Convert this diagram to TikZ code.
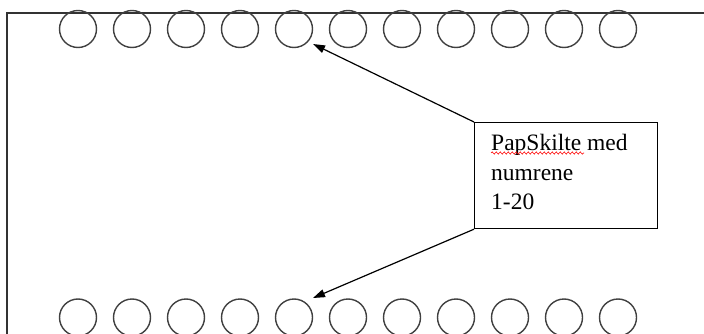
\documentclass[tikz,border=0pt]{standalone}
\usepackage{fontspec}
\setmainfont{Liberation Serif}
\usetikzlibrary{arrows.meta,decorations.pathmorphing}
\begin{document}
\begin{tikzpicture}[x=1pt,y=-1pt,
  sign/.style={circle,draw=black!75,line width=1.4pt,minimum size=37pt,inner sep=0pt},
  frameline/.style={draw=black!80,line width=1.8pt},
  callout/.style={draw=black,line width=1.2pt,minimum width=183pt,minimum height=106pt,inner sep=0pt},
  pointer/.style={draw=black,line width=1.2pt,-{Triangle[length=12pt,width=8pt]}}]
\useasboundingbox (0,0) rectangle (704,334);
\draw[frameline] (7,334) -- (7,13) -- (704,13);
\foreach \i in {0,...,10} {
  \node[sign] (t\i) at ({78+54*\i},29) {};
  \node[sign] (b\i) at ({78+54*\i},317.5) {};
}
\node[callout,anchor=north west] (box) at (474,122) {};
\node[anchor=north west,inner sep=0pt,align=left,font=\fontsize{23.5}{29.5}\selectfont] (txt) at (491,134) {PapSkilte med\\numrene\\1-20};
\draw[red,line width=0.6pt,decorate,decoration={snake,amplitude=1.1pt,segment length=4pt}] (491,153) -- (584,153);
\coordinate (tipT) at (313,44);
\coordinate (tipB) at (313,298);
\draw[pointer] (box.north west) -- (tipT);
\draw[pointer] (box.south west) -- (tipB);
\end{tikzpicture}
\end{document}
